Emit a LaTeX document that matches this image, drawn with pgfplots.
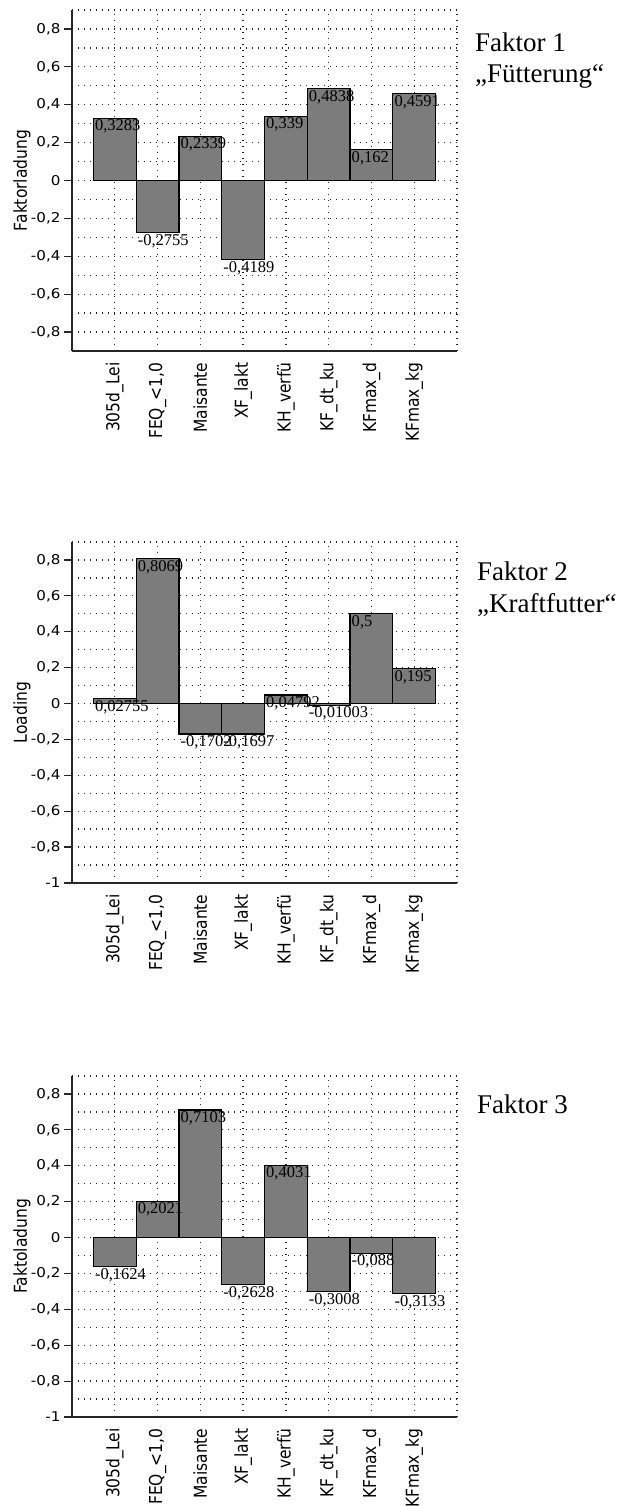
\documentclass[border=0pt]{standalone}
\usepackage{fontspec}
\setmainfont{Liberation Serif}
\newfontfamily\dejavu{DejaVu Sans}
\newfontfamily\dejavuwide[FakeStretch=1.12]{DejaVu Sans}
\usepackage{pgfplots}
\pgfplotsset{compat=1.18}

\definecolor{barfill}{RGB}{124,124,124}
\definecolor{gridc}{RGB}{35,35,35}
\newcommand{\xl}[1]{\scalebox{1}[1.15]{#1}}

\pgfplotsset{
  faktor/.style={
    scale only axis, width=385pt, height=341pt,
    anchor=south west,
    xmin=0, xmax=9,
    axis x line*=bottom, axis y line*=left,
    axis line style={-, line width=1.3pt, black!85},
    xtick={1,2,3,4,5,6,7,8},
    xticklabels={\xl{305d\_Lei},\xl{FEQ\_<1,0},\xl{Maisante},\xl{XF\_lakt},\xl{KH\_verfü},\xl{KF\_dt\_ku},\xl{KFmax\_d},\xl{KFmax\_kg}},
    xticklabel style={rotate=90, anchor=east, font=\dejavu\fontsize{15.5}{17}\selectfont},
    x tick style={draw=none},
    extra x ticks={9}, extra x tick labels={},
    extra x tick style={grid=major, x tick style={draw=none}},
    tick align=outside,
    y tick style={line width=1.2pt, black!85},
    major tick length=8pt, minor tick length=0pt,
    yticklabel style={font=\dejavuwide\fontsize{13.5}{15}\selectfont},
    minor ytick={-0.9,-0.7,-0.5,-0.3,-0.1,0.1,0.3,0.5,0.7,0.9},
    xmajorgrids, ymajorgrids, yminorgrids,
    major grid style={gridc, line width=1.3pt, dash pattern=on 1.3pt off 4.7pt},
    minor grid style={gridc, line width=1.3pt, dash pattern=on 1.3pt off 4.7pt},
    every axis y label/.style={at={(axis description cs:-0.13,0.5)}, rotate=90, anchor=center, font=\dejavu\fontsize{15.5}{17}\selectfont},
  },
  bars/.style={ybar, bar width=42.78pt, fill=barfill, draw=black, line width=1.2pt},
  labs/.style={only marks, mark=*, mark size=0pt, mark options={draw=none, fill=none},
    nodes near coords, point meta=explicit symbolic,
    every node near coord/.style={anchor=north west, xshift=-21.39pt, inner sep=1.5pt,
      font=\fontsize{16.5}{17}\selectfont, text=black}},
}

\begin{document}
\begin{tikzpicture}
\path[use as bounding box] (0,0) rectangle (629pt,1506pt);

% ---------- Faktor 1 ----------
\begin{axis}[faktor, at={(72pt,1155pt)}, ymin=-0.9, ymax=0.9,
  ytick={-0.8,-0.6,-0.4,-0.2,0,0.2,0.4,0.6,0.8},
  yticklabels={{-0,8},{-0,6},{-0,4},{-0,2},0,{0,2},{0,4},{0,6},{0,8}},
  ylabel={\xl{Faktorladung}}]
\addplot[bars] table[x=x, y=y] {
x y
1 0.3283
2 -0.2755
3 0.2339
4 -0.4189
5 0.339
6 0.4838
7 0.162
8 0.4591
};
\addplot[labs] table[x=x, y=y, meta=lab] {
x y lab
1 0.3283 0,3283
2 -0.2755 -0,2755
3 0.2339 0,2339
4 -0.4189 -0,4189
5 0.339 0,339
6 0.4838 0,4838
7 0.162 0,162
8 0.4591 0,4591
};
\end{axis}

% ---------- Faktor 2 ----------
\begin{axis}[faktor, at={(72pt,623pt)}, ymin=-1, ymax=0.9,
  ytick={-1,-0.8,-0.6,-0.4,-0.2,0,0.2,0.4,0.6,0.8},
  yticklabels={-1,{-0,8},{-0,6},{-0,4},{-0,2},0,{0,2},{0,4},{0,6},{0,8}},
  ylabel={\xl{Loading}}]
\addplot[bars] table[x=x, y=y] {
x y
1 0.02755
2 0.8069
3 -0.1702
4 -0.1697
5 0.04792
6 -0.01003
7 0.5
8 0.195
};
\addplot[labs] table[x=x, y=y, meta=lab] {
x y lab
1 0.02755 0,02755
2 0.8069 0,8069
3 -0.1702 -0,1702
4 -0.1697 -0,1697
5 0.04792 0,04792
6 -0.01003 -0,01003
7 0.5 0,5
8 0.195 0,195
};
\end{axis}

% ---------- Faktor 3 ----------
\begin{axis}[faktor, at={(72pt,89pt)}, ymin=-1, ymax=0.9,
  ytick={-1,-0.8,-0.6,-0.4,-0.2,0,0.2,0.4,0.6,0.8},
  yticklabels={-1,{-0,8},{-0,6},{-0,4},{-0,2},0,{0,2},{0,4},{0,6},{0,8}},
  ylabel={\xl{Faktoladung}}]
\addplot[bars] table[x=x, y=y] {
x y
1 -0.1624
2 0.2021
3 0.7103
4 -0.2628
5 0.4031
6 -0.3008
7 -0.088
8 -0.3133
};
\addplot[labs] table[x=x, y=y, meta=lab] {
x y lab
1 -0.1624 -0,1624
2 0.2021 0,2021
3 0.7103 0,7103
4 -0.2628 -0,2628
5 0.4031 0,4031
6 -0.3008 -0,3008
7 -0.088 -0,088
8 -0.3133 -0,3133
};
\end{axis}

% ---------- titles ----------
\begin{scope}[every node/.style={anchor=base west, inner sep=0pt, font=\fontsize{27}{32}\selectfont}]
\node at (475pt,1454pt) {Faktor 1};
\node at (475pt,1423pt) {„Fütterung“};
\node at (477pt,925pt) {Faktor 2};
\node at (477pt,893pt) {„Kraftfutter“};
\node at (477pt,392pt) {Faktor 3};
\end{scope}
\end{tikzpicture}
\end{document}
